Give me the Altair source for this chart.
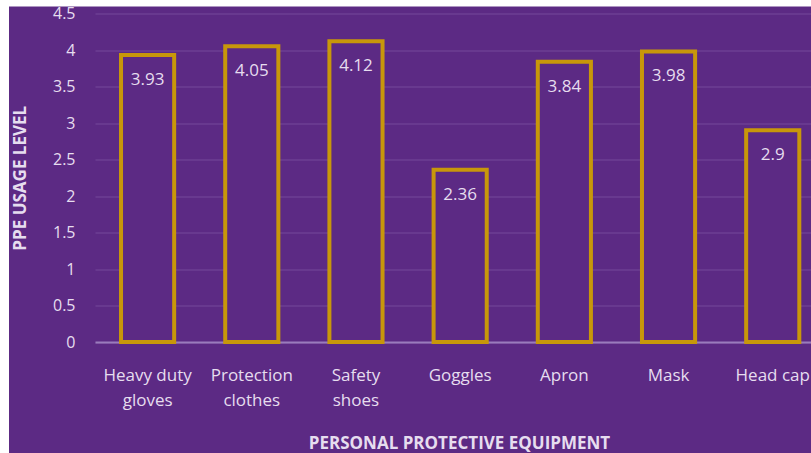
import altair as alt
import pandas as pd

categories = ["Heavy duty gloves", "Protection clothes", "Safety shoes",
              "Goggles", "Apron", "Mask", "Head cap"]
values = [3.93, 4.05, 4.12, 2.36, 3.84, 3.98, 2.9]
label_lines = [["Heavy duty", "gloves"], ["Protection", "clothes"], ["Safety", "shoes"],
               ["Goggles"], ["Apron"], ["Mask"], ["Head cap"]]
y_ticks = [0, 0.5, 1, 1.5, 2, 2.5, 3, 3.5, 4, 4.5]

df = pd.DataFrame({"equipment": categories, "level": values})

# label expression with line breaks
expr = "datum.label"
for cat, lines in zip(categories, label_lines):
    arr = "[" + ",".join("'" + l + "'" for l in lines) + "]"
    expr = f"datum.label === '{cat}' ? {arr} : ({expr})"

W, H = 716, 328.5
BG = "#5c2a84"
GOLD = "#c8970a"
TXT = "#e6ddef"
FONT = "Open Sans"

x = alt.X(
    "equipment:N", sort=categories,
    scale=alt.Scale(paddingInner=0.49, paddingOuter=0.181, align=0.69),
    axis=alt.Axis(
        title="PERSONAL PROTECTIVE EQUIPMENT", labelAngle=0, labelExpr=expr,
        ticks=False, domain=True, domainColor="#9a7cbc", domainWidth=2,
        labelPadding=25, labelFont=FONT, labelFontSize=17, labelColor=TXT,
        labelLineHeight=25, labelBaseline="top",
        titleX=364, titleY=106, titleBaseline="alphabetic", titleAlign="center",
        titleFont=FONT, titleFontSize=17, titleFontWeight="bold", titleColor=TXT,
        grid=False,
    ),
)
y = alt.Y(
    "level:Q",
    scale=alt.Scale(domain=[0, 4.5], nice=False, zero=True),
    axis=alt.Axis(
        values=y_ticks, format=".1~f", title="PPE USAGE LEVEL", domain=False, ticks=False,
        gridColor="#74499a", gridWidth=1.2, labelPadding=20, labelFont=FONT,
        labelFontSize=16, labelColor=TXT, titleX=-75, titleY=H / 2, titleAngle=270,
        titleBaseline="middle", titleAlign="center", titleFont=FONT, titleFontSize=17,
        titleFontWeight="bold", titleColor=TXT, zindex=0,
    ),
)

bars = alt.Chart(df).mark_bar(fill=BG, stroke=GOLD, strokeWidth=4).encode(x=x, y=y)
texts = alt.Chart(df).mark_text(baseline="middle", dy=25, color=TXT, font=FONT,
                                fontSize=17).encode(
    x=x, y=y, text=alt.Text("level:Q", format=".2~f"))

frame = pd.DataFrame({"k": [0]})
left_strip = alt.Chart(frame).mark_rect(color="white").encode(
    x=alt.value(-95), x2=alt.value(-86), y=alt.value(-13.5), y2=alt.value(H + 111))
top_strip = alt.Chart(frame).mark_rect(color="white").encode(
    x=alt.value(-95), x2=alt.value(W), y=alt.value(-13.5), y2=alt.value(-7))

chart = alt.layer(bars, texts, left_strip, top_strip).properties(
    width=W, height=H,
    autosize=alt.AutoSizeParams(type="none"),
    padding={"left": 95, "top": 13.5, "right": 0, "bottom": 111},
    background=BG,
).configure_view(stroke=None)

chart.save("out.html", embed_options={"renderer": "svg", "actions": False})
